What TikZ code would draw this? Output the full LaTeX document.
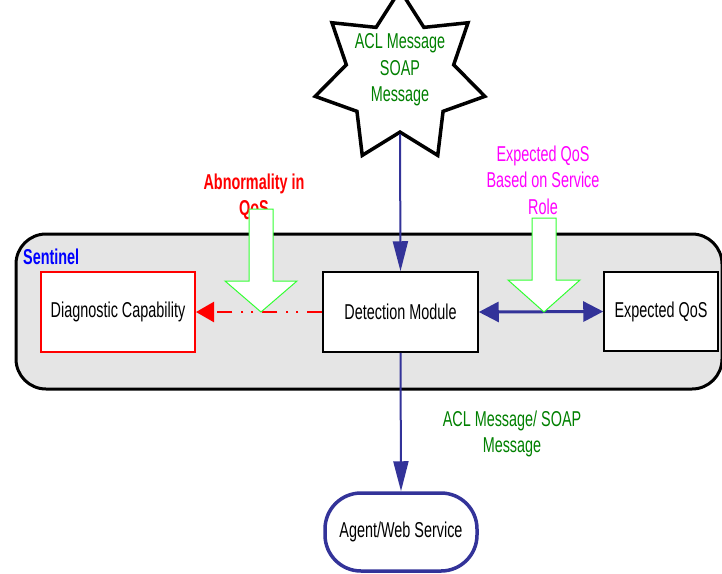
\documentclass[tikz,border=0pt]{standalone}
\usepackage{fontspec}
\setmainfont[FakeStretch=0.67]{Liberation Sans}
\usetikzlibrary{arrows.meta,shapes.geometric}

\definecolor{navy}{HTML}{333399}
\definecolor{msggreen}{HTML}{008000}
\definecolor{panelgray}{HTML}{E5E5E5}
\definecolor{arrowgreen}{HTML}{33FF33}
\definecolor{rolepink}{HTML}{FF00FF}

\tikzset{
  txt/.style={font=\fontsize{21.5}{26.5}\selectfont, align=center, inner sep=0pt},
  boldtxt/.style={txt, font=\fontsize{21.5}{25.5}\selectfont\bfseries},
  box/.style={txt, draw, fill=white, line width=1.5pt, minimum width=155pt, minimum height=80pt},
  flow/.style={navy, line width=2pt, -{Triangle[length=30pt,width=15pt]}},
  blockarrow/.style={draw=arrowgreen, fill=white, line width=1pt},
}

\begin{document}
\begin{tikzpicture}[x=1pt,y=-1pt]
\clip (0,0) rectangle (722,573);

% sentinel panel
\draw[fill=panelgray, line width=3pt, rounded corners=30pt] (16,234) rectangle (722,389);
\node[boldtxt, text=blue, anchor=west] (sentinel) at (23,257) {Sentinel};

% modules
\node[box, draw=red, line width=2pt, minimum width=154pt] (diag) at (118,312) {Diagnostic Capability};
\node[box] (detect) at (400.5,312) {Detection Module};
\node[box, minimum width=114pt, minimum height=79pt] (expqos) at (661,311.5) {Expected QoS};
\node[box, draw=navy, line width=3.5pt, rounded corners=36pt, minimum width=152pt, minimum height=78pt] (agent) at (401,532) {Agent/Web Service};

% incoming message
\node[star, star points=7, star point ratio=1.58, minimum size=174pt, draw, line width=3.5pt, fill=white, inner sep=0pt] (msg) at (400,77) {};
\node[txt, text=msggreen] (msgtext) at (400,70) {ACL Message\\SOAP\\Message};

\draw[flow] (msg.south) -- (detect.north);
\draw[flow] (detect.south) -- (agent.north);
\draw[navy, line width=3pt, {Triangle[length=20pt,width=20pt]}-{Triangle[length=20pt,width=20pt]}] (detect.east) -- (expqos.west);
\draw[red, line width=2.5pt, dash pattern=on 15pt off 9pt on 2pt off 8pt on 2pt off 9pt, -{Triangle[length=18pt,width=20pt]}] (detect.west) -- (diag.east);

% labels
\node[boldtxt, text=red] (abnorm) at (254,197) {Abnormality in\\QoS};
\node[txt, text=rolepink] (expbase) at (543,180) {Expected QoS\\Based on Service\\Role};
\node[txt, text=msggreen] (acllabel) at (512,434) {ACL Message/ SOAP\\Message};

% block arrows
\foreach \tx/\hy/\ty in {261/281/209, 544/280/218}
  \draw[blockarrow] (\tx,312) -- (\tx-36,\hy) -- (\tx-12,\hy) -- (\tx-12,\ty) -- (\tx+12,\ty) -- (\tx+12,\hy) -- (\tx+36,\hy) -- cycle;
\end{tikzpicture}
\end{document}
